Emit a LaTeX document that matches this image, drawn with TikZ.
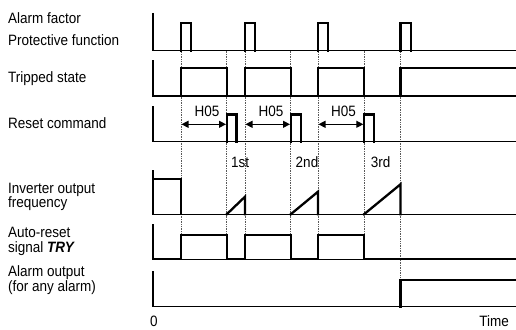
\documentclass[tikz,border=0pt]{standalone}
\usepackage{fontspec}
\setmainfont{Liberation Sans}[FakeStretch=0.9]
\usetikzlibrary{arrows.meta}
\tikzset{
  sig/.style={line width=2.3pt, line join=miter, line cap=rect},
  ax/.style={line width=1.1pt},
  guide/.style={densely dotted, line width=0.7pt, black!65},
  lbl/.style={anchor=base west, inner sep=0pt, font=\fontsize{15}{15}\selectfont},
  ctr/.style={anchor=base, inner sep=0pt, font=\fontsize{15}{15}\selectfont},
  dur/.style={{Triangle[length=7pt,width=7pt]}-{Triangle[length=7pt,width=7pt]}, line width=1.2pt},
}
\begin{document}
\begin{tikzpicture}[x=1pt,y=-1pt]
\useasboundingbox (0,0) rectangle (516,329);
% dotted guide lines
\foreach \gx in {181,226.7,245,290.7,318,364} {
  \draw[guide] (\gx,50.7) -- (\gx,259.3);
}
\draw[guide] (400.5,50.7) -- (400.5,306.7);
% axes
\foreach \top/\base in {13/50.7, 60/96, 106/141.5, 170/214.3, 224/259.3, 271/306.7} {
  \draw[ax] (153,\top) -- (153,\base) -- (516,\base);
}
% alarm factor pulses
\foreach \s/\e in {181/190.7, 245/255, 318/328.3, 400.5/411} {
  \draw[sig] (\s,50.7) -- (\s,22.7) -- (\e,22.7) -- (\e,50.7);
}
% tripped state
\foreach \s/\e in {181/226.7, 245/290.7, 318/364} {
  \draw[sig] (\s,96) -- (\s,68) -- (\e,68) -- (\e,96);
}
\draw[sig] (400.5,96) -- (400.5,68) -- (516,68);
% reset command pulses
\foreach \s/\e in {226.7/236.5, 290.7/300.7, 364/374} {
  \draw[sig] (\s,141.5) -- (\s,114.5) -- (\e,114.5) -- (\e,141.5);
}
% inverter output frequency
\draw[sig] (153,179) -- (181,179) -- (181,214.3);
\draw[sig] (226.7,214.3) -- (245,196.7) -- (245,214.3);
\draw[sig] (290.7,214.3) -- (318,191.7) -- (318,214.3);
\draw[sig] (364,214.3) -- (400.5,184.3) -- (400.5,214.3);
% auto-reset signal
\draw[sig] (153,259.3) -- (181,259.3) -- (181,235) -- (226.7,235) -- (226.7,259.3)
  -- (245,259.3) -- (245,235) -- (290.7,235) -- (290.7,259.3)
  -- (318,259.3) -- (318,235) -- (364,235) -- (364,259.3) -- (516,259.3);
% alarm output
\draw[sig] (400.5,306.7) -- (400.5,280) -- (516,280);
% H05 arrows
\coordinate (h1a) at (181.5,124.3); \coordinate (h1b) at (226,124.3);
\coordinate (h2a) at (245.5,124.3); \coordinate (h2b) at (290,124.3);
\coordinate (h3a) at (318.5,124.3); \coordinate (h3b) at (363.3,124.3);
\draw[dur] (h1a) -- (h1b);
\draw[dur] (h2a) -- (h2b);
\draw[dur] (h3a) -- (h3b);
\node[ctr] (t1) at (207,116.5) {H05};
\node[ctr] (t2) at (271,116.5) {H05};
\node[ctr] (t3) at (343.5,116.5) {H05};
% count labels
\node[ctr] (c1) at (240,167.5) {1st};
\node[ctr] (c2) at (307,167.5) {2nd};
\node[ctr] (c3) at (380.5,167.5) {3rd};
% row labels
\node[lbl] (l1) at (8,24) {Alarm factor};
\node[lbl] (l2) at (8,45.7) {Protective function};
\node[lbl] (l3) at (8,82.3) {Tripped state};
\node[lbl] (l4) at (8,128.3) {Reset command};
\node[lbl] (l5) at (8,193.4) {Inverter output};
\node[lbl] (l6) at (8,207.9) {frequency};
\node[lbl] (l7) at (8,237.9) {Auto-reset};
\node[lbl] (l8) at (8,252.4) {signal \textbf{\textit{TRY}}};
\node[lbl] (l9) at (8,276.6) {Alarm output};
\node[lbl] (l10) at (8,291.1) {(for any alarm)};
% time axis labels
\node[ctr] (zero) at (154,326) {0};
\node[ctr] (time) at (494,326) {Time};
\end{tikzpicture}
\end{document}
